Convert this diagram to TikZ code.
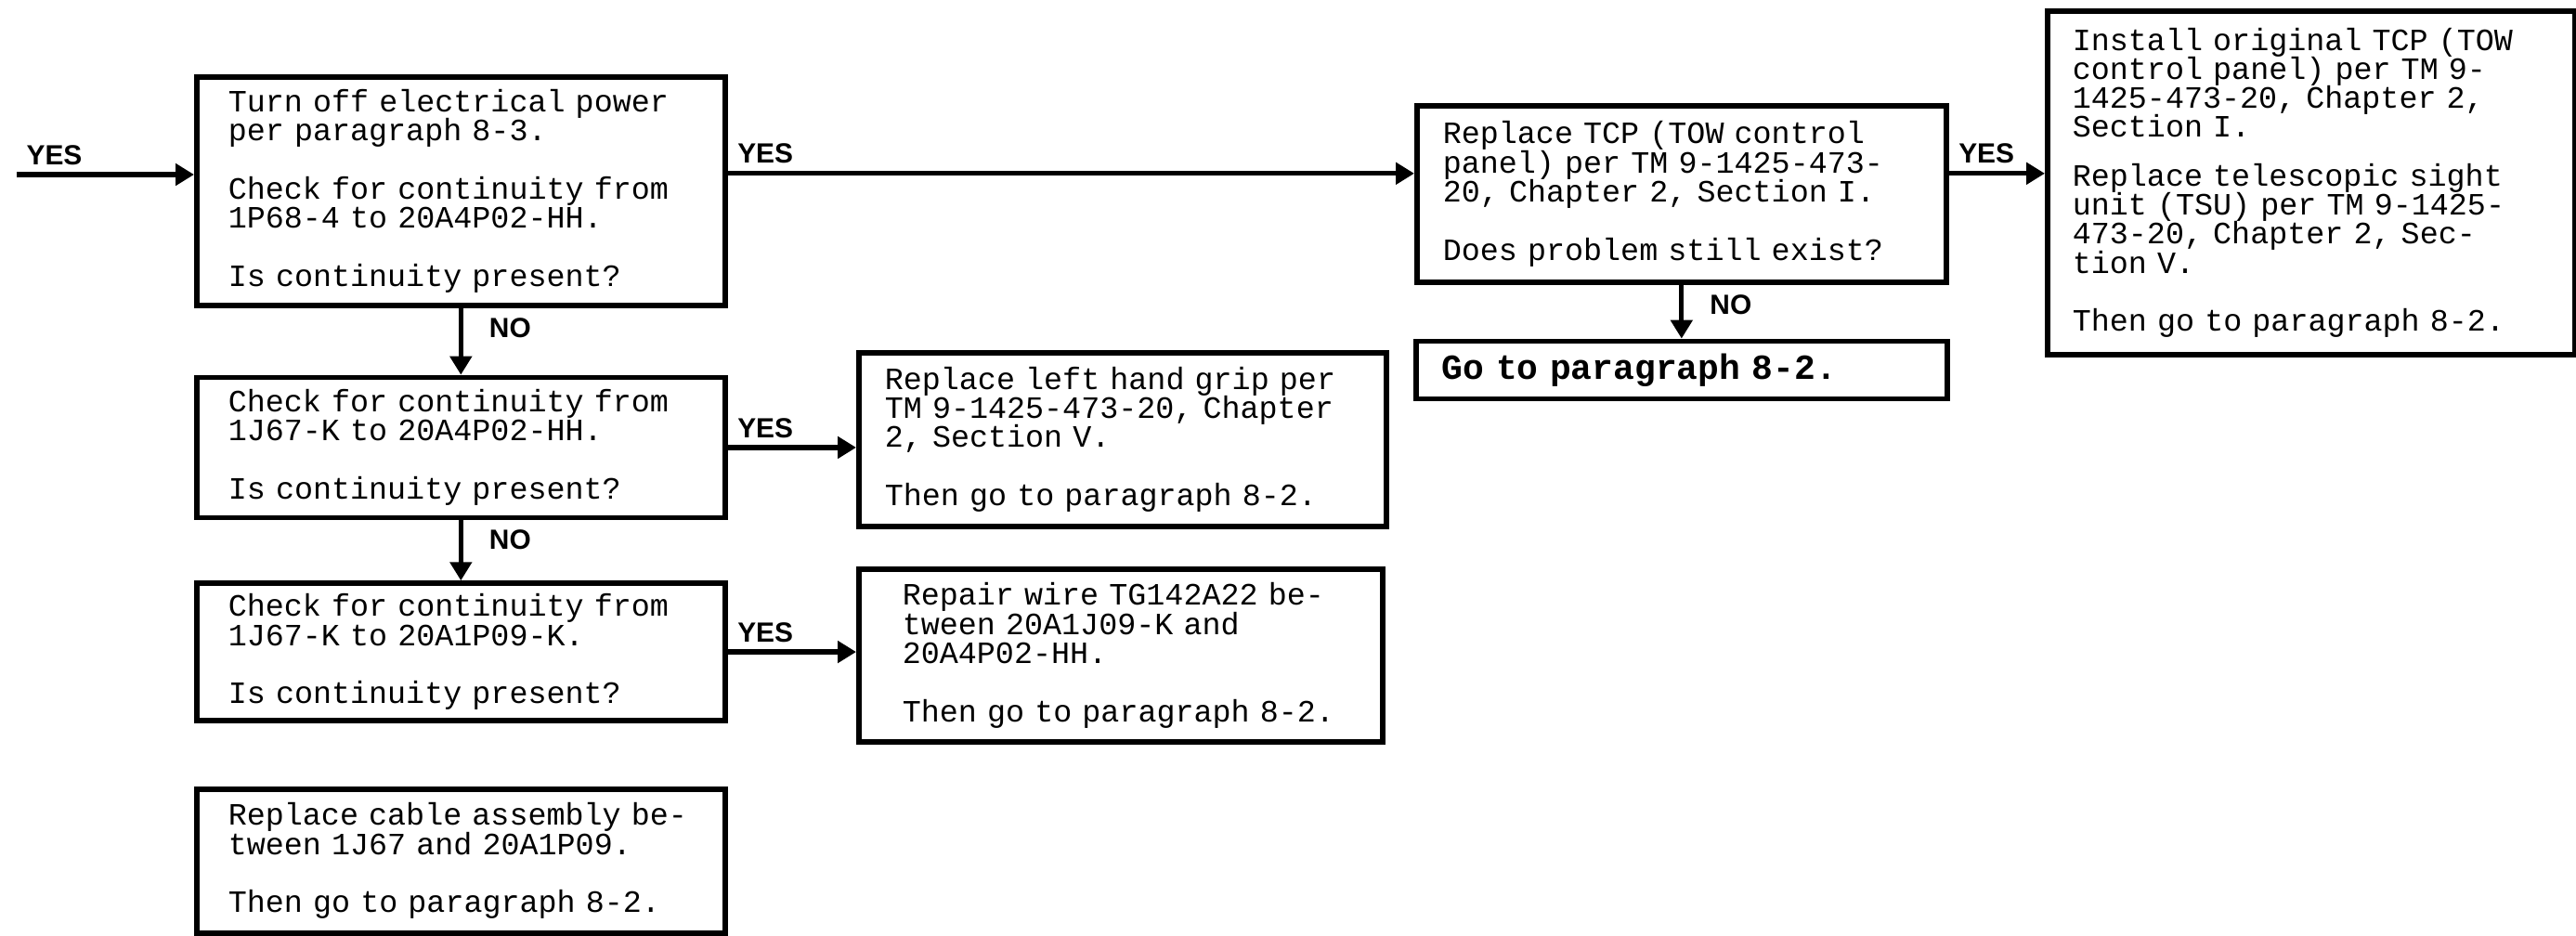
\documentclass[tikz,border=0pt]{standalone}
\usepackage{fontspec}
\newfontfamily\monofont{Liberation Mono}
\newfontfamily\labelfont{Liberation Sans}
\usetikzlibrary{arrows.meta, positioning}

\begin{document}
\begin{tikzpicture}[
node distance=7mm,
box/.style={rectangle, draw, line width=1.6pt, align=left, anchor=north west, text width=50.1mm, inner xsep=3.4mm, inner ysep=0pt, font=\monofont\fontsize{9.5}{8.9}\selectfont},
lbl/.style={font=\labelfont\bfseries\fontsize{8.5}{8.5}\selectfont, inner sep=0.8mm},
line/.style={line width=1.5pt, -{Triangle[length=2mm, width=2.3mm]}}
]
\useasboundingbox (0,0) rectangle (27.74,-10.07);

\node[box, minimum height=24.6mm] (power) at (2.09,-0.80) {Turn off electrical power\\ per paragraph 8-3.\\[8.9pt] Check for continuity from\\ 1P68-4 to 20A4P02-HH.\\[8.9pt] Is continuity present?};
\node[box, minimum height=15.1mm, below=7.2mm of power] (hh) {Check for continuity from\\ 1J67-K to 20A4P02-HH.\\[8.9pt] Is continuity present?};
\node[box, minimum height=14.8mm, below=6.5mm of hh] (k) {Check for continuity from\\ 1J67-K to 20A1P09-K.\\[8.9pt] Is continuity present?};
\node[box, minimum height=15.5mm, below=6.8mm of k] (cable) {Replace cable assembly be-\\ tween 1J67 and 20A1P09.\\[8.9pt] Then go to paragraph 8-2.};

\node[box, text width=51.2mm, inner xsep=2.8mm, minimum height=18.7mm] (grip) at (9.22,-3.77) {Replace left hand grip per\\ TM 9-1425-473-20, Chapter\\ 2, Section V.\\[8.9pt] Then go to paragraph 8-2.};
\node[box, text width=47.0mm, inner xsep=4.7mm, minimum height=18.6mm] (wire) at (9.22,-6.10) {Repair wire TG142A22 be-\\ tween 20A1J09-K and\\ 20A4P02-HH.\\[8.9pt] Then go to paragraph 8-2.};

\node[box, text width=51.4mm, inner xsep=2.8mm, minimum height=19mm] (tcp) at (15.23,-1.11) {Replace TCP (TOW control\\ panel) per TM 9-1425-473-\\ 20, Chapter 2, Section I.\\[8.9pt] Does problem still exist?};
\node[box, text width=51.6mm, inner xsep=2.8mm, minimum height=6.2mm, below=5.8mm of tcp, font=\monofont\bfseries\fontsize{10.8}{10.8}\selectfont] (goto) {Go to paragraph 8-2.};
\node[box, text width=51.4mm, inner xsep=2.7mm, minimum height=37mm] (tsu) at (22.02,-0.09) {Install original TCP (TOW\\ control panel) per TM 9-\\ 1425-473-20, Chapter 2,\\ Section I.\\[6pt] Replace telescopic sight\\ unit (TSU) per TM 9-1425-\\ 473-20, Chapter 2, Sec-\\ tion V.\\[8.9pt] Then go to paragraph 8-2.};

\coordinate (entry) at (0.18,-1.88);

\draw[line] (entry) -- (entry -| power.west) node[lbl, pos=0, anchor=south west] {YES};
\draw[line] ([yshift=1.9mm]power.east) -- ([yshift=1.9mm]power.east -| tcp.west) node[lbl, pos=0, anchor=south west] {YES};
\draw[line] ([yshift=2.2mm]tcp.east) -- ([yshift=2.2mm]tcp.east -| tsu.west) node[lbl, pos=0, anchor=south west] {YES};
\draw[line] (tcp) -- (goto) node[lbl, pos=0, anchor=north west, xshift=2mm] {NO};
\draw[line] (power) -- (hh) node[lbl, pos=0, anchor=north west, xshift=2mm] {NO};
\draw[line] (hh.east) -- (hh.east -| grip.west) node[lbl, pos=0, anchor=south west] {YES};
\draw[line] (hh) -- (k) node[lbl, pos=0, anchor=north west, xshift=2mm] {NO};
\draw[line] (k.east) -- (k.east -| wire.west) node[lbl, pos=0, anchor=south west] {YES};

\end{tikzpicture}
\end{document}
